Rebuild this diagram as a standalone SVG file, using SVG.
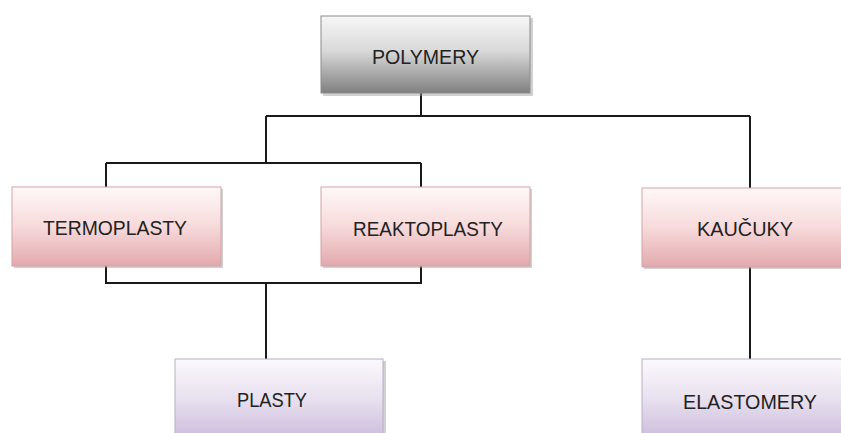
<svg xmlns="http://www.w3.org/2000/svg" width="841" height="433" viewBox="0 0 841 433">
<defs>
<linearGradient id="gGray" x1="0" y1="0" x2="0" y2="1">
<stop offset="0" stop-color="#f7f7f7"/><stop offset="0.45" stop-color="#d9d9d9"/><stop offset="1" stop-color="#808080"/>
</linearGradient>
<linearGradient id="gPink" x1="0" y1="0" x2="0" y2="1">
<stop offset="0" stop-color="#fff8f8"/><stop offset="0.5" stop-color="#f7dadb"/><stop offset="1" stop-color="#e2a9ad"/>
</linearGradient>
<linearGradient id="gPurple" x1="0" y1="0" x2="0" y2="1">
<stop offset="0" stop-color="#fbf9fd"/><stop offset="0.5" stop-color="#e8e0ef"/><stop offset="1" stop-color="#cbbcdc"/>
</linearGradient>
</defs>
<style>
.shadow{fill:#9a9a9a;opacity:0.45}
.gray{fill:url(#gGray);stroke:#8c8c8c;stroke-width:1}
.pink{fill:url(#gPink);stroke:#d3a3a6;stroke-width:1}
.purple{fill:url(#gPurple);stroke:#b9aec9;stroke-width:1}
.lbl{font-family:"Liberation Sans",Arial,sans-serif;font-size:21px;fill:#222;text-anchor:middle}
.conn{stroke:#1a1a1a;stroke-width:2;fill:none}
</style>
<g id="connectors">
<path class="conn" d="M421,93 V116 M266,116 H750 M266,116 V163 M106,163 H421 M106,163 V187 M421,163 V187 M750,116 V188 M106,266 V283 H421 V266 M266,283 V359 M750,267 V359"/>
</g>
<g id="polymery">
<rect class="shadow" x="323" y="18" width="210" height="78"/>
<rect class="gray" x="321" y="16" width="209" height="77"/>
<text class="lbl" x="425.5" y="64" textLength="107" lengthAdjust="spacingAndGlyphs">POLYMERY</text>
</g>
<g id="termoplasty">
<rect class="shadow" x="14" y="189" width="209" height="79"/>
<rect class="pink" x="12" y="187" width="209" height="79"/>
<text class="lbl" x="115" y="235" textLength="144" lengthAdjust="spacingAndGlyphs">TERMOPLASTY</text>
</g>
<g id="reaktoplasty">
<rect class="shadow" x="323" y="189" width="209" height="79"/>
<rect class="pink" x="321" y="187" width="209" height="79"/>
<text class="lbl" x="428" y="236" textLength="150" lengthAdjust="spacingAndGlyphs">REAKTOPLASTY</text>
</g>
<g id="kaucuky">
<rect class="shadow" x="644" y="190" width="216" height="79"/>
<rect class="pink" x="642" y="188" width="216" height="79"/>
<text class="lbl" x="745" y="236" textLength="96" lengthAdjust="spacingAndGlyphs">KAUČUKY</text>
</g>
<g id="plasty">
<rect class="shadow" x="177" y="361" width="209" height="80"/>
<rect class="purple" x="175" y="359" width="208" height="80"/>
<text class="lbl" x="272" y="407" textLength="70" lengthAdjust="spacingAndGlyphs">PLASTY</text>
</g>
<g id="elastomery">
<rect class="shadow" x="644" y="361" width="216" height="80"/>
<rect class="purple" x="642" y="359" width="216" height="80"/>
<text class="lbl" x="750" y="409" textLength="134" lengthAdjust="spacingAndGlyphs">ELASTOMERY</text>
</g>
</svg>
